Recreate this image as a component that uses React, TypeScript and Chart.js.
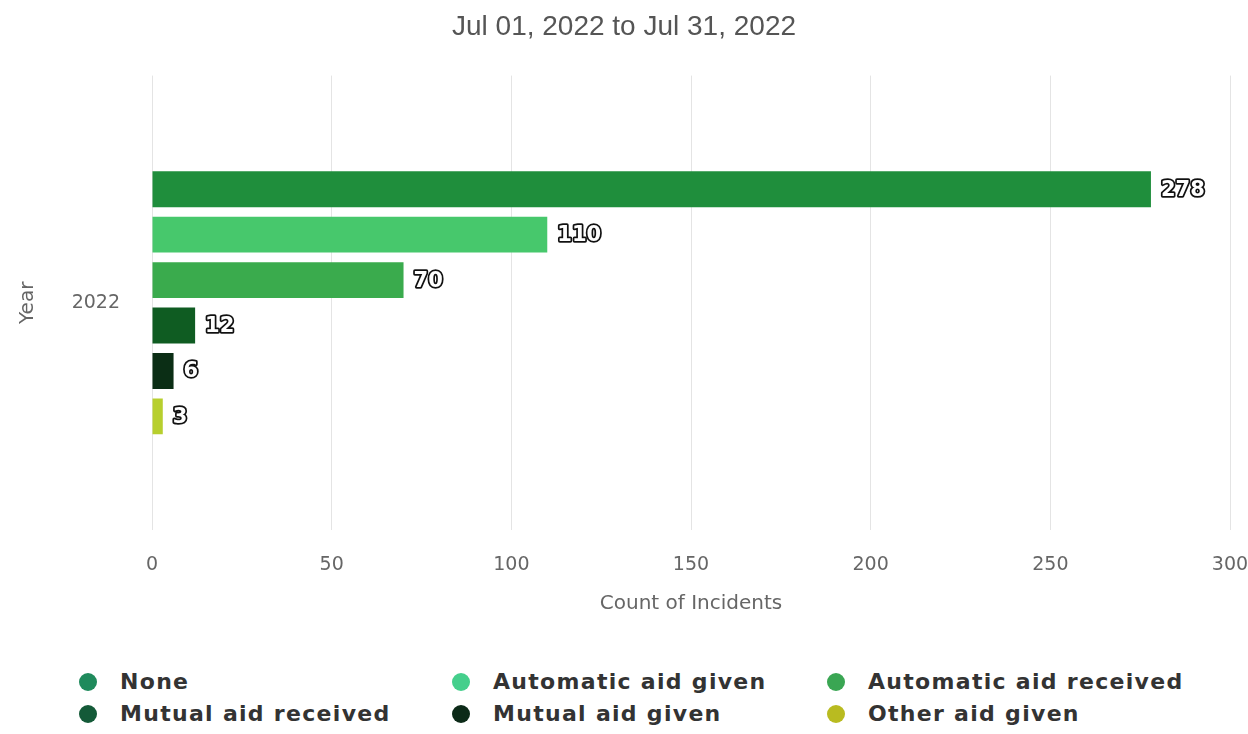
import React, { useEffect, useRef } from "react";
import { Chart, registerables } from "chart.js";

Chart.register(...registerables);

const categories = ["2022"];
const seriesNames = [
  "None",
  "Automatic aid given",
  "Automatic aid received",
  "Mutual aid received",
  "Mutual aid given",
  "Other aid given",
];
const seriesValues = [278, 110, 70, 12, 6, 3];
const barColors = ["#1f8e3c", "#47c86c", "#3aab4d", "#0f5c22", "#0b2e15", "#b7cf2e"];
const legendColors = ["#1f8a5c", "#45cf8c", "#3aa653", "#145a38", "#0c2a18", "#b9bb20"];
const xTicks = [0, 50, 100, 150, 200, 250, 300];
const titleText = "Jul 01, 2022 to Jul 31, 2022";
const xTitle = "Count of Incidents";
const yTitle = "Year";

const valueLabelPlugin = {
  id: "valueLabels",
  afterDatasetsDraw(chart: any) {
    const ctx = chart.ctx;
    ctx.save();
    ctx.font = "bold 21px 'DejaVu Sans'";
    ctx.textBaseline = "middle";
    ctx.textAlign = "left";
    ctx.lineJoin = "round";
    chart.data.datasets.forEach((ds: any, i: number) => {
      const meta = chart.getDatasetMeta(i);
      meta.data.forEach((el: any, j: number) => {
        const v = ds.data[j];
        const x = el.x + 10;
        const y = el.y + 1;
        ctx.lineWidth = 3.5;
        ctx.strokeStyle = "#111";
        ctx.strokeText(String(v), x, y);
        ctx.fillStyle = "#ffffff";
        ctx.fillText(String(v), x, y);
      });
    });
    ctx.restore();
  },
};

export default function App() {
  const ref = useRef<HTMLCanvasElement | null>(null);
  useEffect(() => {
    if (!ref.current) return;
    const chart = new Chart(ref.current, {
      type: "bar",
      data: {
        labels: categories,
        datasets: seriesNames.map((name, i) => ({
          label: name,
          data: [seriesValues[i]],
          backgroundColor: barColors[i],
          borderWidth: 0,
          categoryPercentage: 0.6,
          barPercentage: 0.79,
        })),
      },
      options: {
        indexAxis: "y",
        responsive: false,
        animation: false,
        devicePixelRatio: 1,
        layout: { padding: { left: 0, right: 0, top: 0, bottom: 0 } },
        plugins: {
          legend: { display: false },
          tooltip: { enabled: false },
          title: {
            display: true,
            text: titleText,
            color: "#555",
            font: { family: "'Liberation Sans'", size: 28, weight: "normal" },
            padding: { top: 10, bottom: 32 },
          },
        },
        scales: {
          x: {
            min: 0,
            max: 300,
            afterBuildTicks: (scale: any) => {
              scale.ticks = xTicks.map((v) => ({ value: v }));
            },
            afterFit: (scale: any) => {
              scale.height = 90;
              scale.paddingLeft = 0;
              scale.paddingRight = 18;
            },
            grid: { color: "#e4e4e4", drawTicks: false, lineWidth: 1 },
            border: { display: false },
            ticks: {
              padding: 24,
              color: "#666",
              font: { family: "'DejaVu Sans'", size: 19 },
            },
            title: {
              display: true,
              text: xTitle,
              color: "#666",
              font: { family: "'DejaVu Sans'", size: 20 },
              padding: { top: 0, bottom: 4 },
            },
          },
          y: {
            afterFit: (scale: any) => {
              scale.width = 152;
            },
            grid: { display: false, drawTicks: false },
            border: { display: false },
            ticks: {
              padding: 32,
              color: "#666",
              font: { family: "'DejaVu Sans'", size: 19 },
            },
            title: {
              display: true,
              text: yTitle,
              color: "#666",
              font: { family: "'DejaVu Sans'", size: 20 },
              padding: { top: 16, bottom: 0 },
            },
          },
        },
      },
      plugins: [valueLabelPlugin],
    } as any);
    return () => chart.destroy();
  }, []);

  const colX = [88, 461, 836];
  const rowY = [682, 714];

  return (
    <div style={{ position: "absolute", left: 0, top: 0, width: 1248, height: 734, background: "#fff" }}>
      <canvas ref={ref} width={1248} height={620} style={{ position: "absolute", left: 0, top: 0 }} />
      {seriesNames.map((name, i) => {
        const cx = colX[i % 3];
        const cy = rowY[Math.floor(i / 3)];
        return (
          <div key={name}>
            <div
              style={{
                position: "absolute",
                left: cx - 9,
                top: cy - 9,
                width: 18,
                height: 18,
                borderRadius: "50%",
                background: legendColors[i],
              }}
            />
            <div
              style={{
                position: "absolute",
                left: cx + 32,
                top: cy - 14,
                height: 28,
                lineHeight: "28px",
                fontFamily: "'DejaVu Sans'",
                fontWeight: "bold",
                fontSize: 22,
                letterSpacing: 1.3,
                color: "#333",
                whiteSpace: "nowrap",
              }}
            >
              {name}
            </div>
          </div>
        );
      })}
    </div>
  );
}
